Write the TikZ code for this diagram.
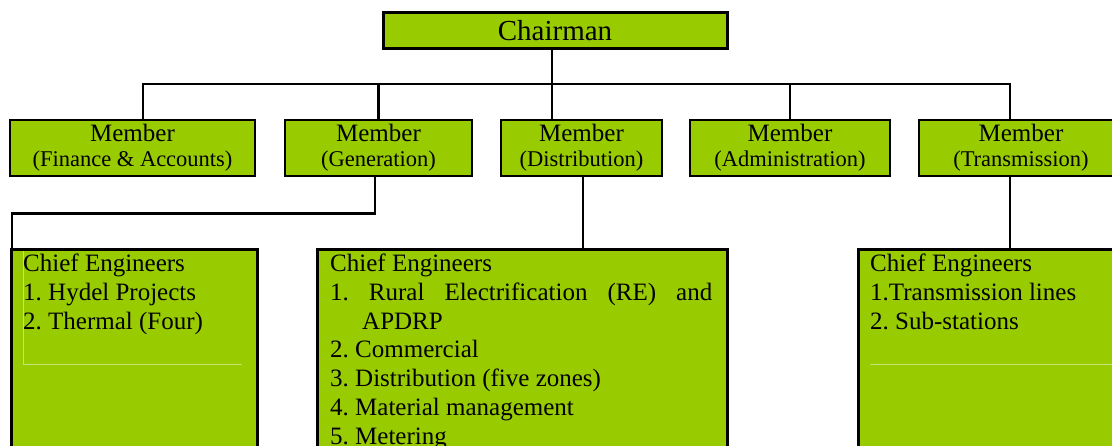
\documentclass[tikz,border=0pt]{standalone}
\usepackage{xcolor}
\usepackage{fontspec}
\setmainfont{Liberation Serif}
\usepackage{tikz}
\usetikzlibrary{positioning, calc}
\definecolor{boardgreen}{RGB}{153,204,0}
\tikzstyle{chairbox} = [rectangle, draw, fill=boardgreen, line width=3pt, minimum width=344pt, minimum height=36pt, inner sep=0pt, font=\fontsize{29}{29}\selectfont]
\tikzstyle{member} = [rectangle, draw, fill=boardgreen, line width=2.8pt, minimum height=56pt, inner sep=0pt, align=center, font=\fontsize{25}{25}\selectfont]
\tikzstyle{cebox} = [rectangle, draw, fill=boardgreen, line width=3pt, minimum height=240pt, anchor=north west, inner sep=0pt]
\tikzstyle{celist} = [anchor=north west, inner sep=0pt, align=left, font=\fontsize{25}{28.7}\selectfont]
\tikzstyle{line} = [draw, line width=2.6pt]
\tikzstyle{faint} = [draw, line width=0.6pt, boardgreen!55!white]
\newcommand{\dept}[1]{{\fontsize{22.5}{25}\selectfont(#1)}}
\frenchspacing

\begin{document}
\begin{tikzpicture}[x=1pt, y=-1pt]
        \useasboundingbox (0,0) rectangle (1112,446);
        \clip (0,0) rectangle (1112,446);

        % Nodes
        \node [chairbox] (chair) at (555,30.5) {Chairman};
        \node [member, minimum width=245pt] (fin) at (132.5,148) {Member\\\dept{Finance \& Accounts}};
        \node [member, minimum width=187pt] (gen) at (378.5,148) {Member\\\dept{Generation}};
        \node [member, minimum width=161pt] (dist) at (581.5,148) {Member\\\dept{Distribution}};
        \node [member, minimum width=200pt] (admin) at (790,148) {Member\\\dept{Administration}};
        \node [member, minimum width=204pt] (trans) at (1021,148) {Member\\\dept{Transmission}};

        \node [cebox, minimum width=246pt] (ce1) at (10,248) {};
        \node [cebox, minimum width=410pt] (ce2) at (316,248) {};
        \node [cebox, minimum width=300pt] (ce3) at (857,248) {};

        % Paths
        \coordinate (bus) at (552,84);
        \draw [line] ([xshift=10.5pt]fin.north) |- (bus) -| ([xshift=-11pt]trans.north);
        \draw [line] (gen.north) -- (gen.north |- bus);
        \draw [line] (admin.north) -- (admin.north |- bus);
        \draw [line] (chair.south -| bus) -- (bus |- dist.north);
        \draw [line] ([xshift=-3.5pt]gen.south) -- ++(0,36) -| ([xshift=2pt]ce1.north west);
        \draw [line] ([xshift=1.5pt]dist.south) -- ([xshift=1.5pt]dist.south |- ce2.north);
        \draw [line] ([xshift=-11pt]trans.south) -- ([xshift=-11pt]trans.south |- ce3.north);

        % Text frames
        \draw [faint] ([xshift=13pt,yshift=-3pt]ce1.north west) |- ([xshift=232pt,yshift=-116pt]ce1.north west);
        \draw [faint] ([xshift=13pt,yshift=-116pt]ce3.north west) -- ++(300,0);

        % Labels
        \node [celist] (ce1list) at ([xshift=13pt,yshift=-6pt]ce1.north west) {Chief Engineers\\1. Hydel Projects\\2. Thermal (Four)};
        \node [celist] (ce2list) at ([xshift=14pt,yshift=-6pt]ce2.north west) {Chief Engineers\\\makebox[382pt][s]{1. Rural Electrification (RE) and}\\\hspace*{32pt}APDRP\\2. Commercial\\3. Distribution (five zones)\\4. Material management\\5. Metering};
        \node [celist] (ce3list) at ([xshift=13pt,yshift=-6pt]ce3.north west) {Chief Engineers\\1.Transmission lines\\2. Sub-stations};
    \end{tikzpicture}
\end{document}
